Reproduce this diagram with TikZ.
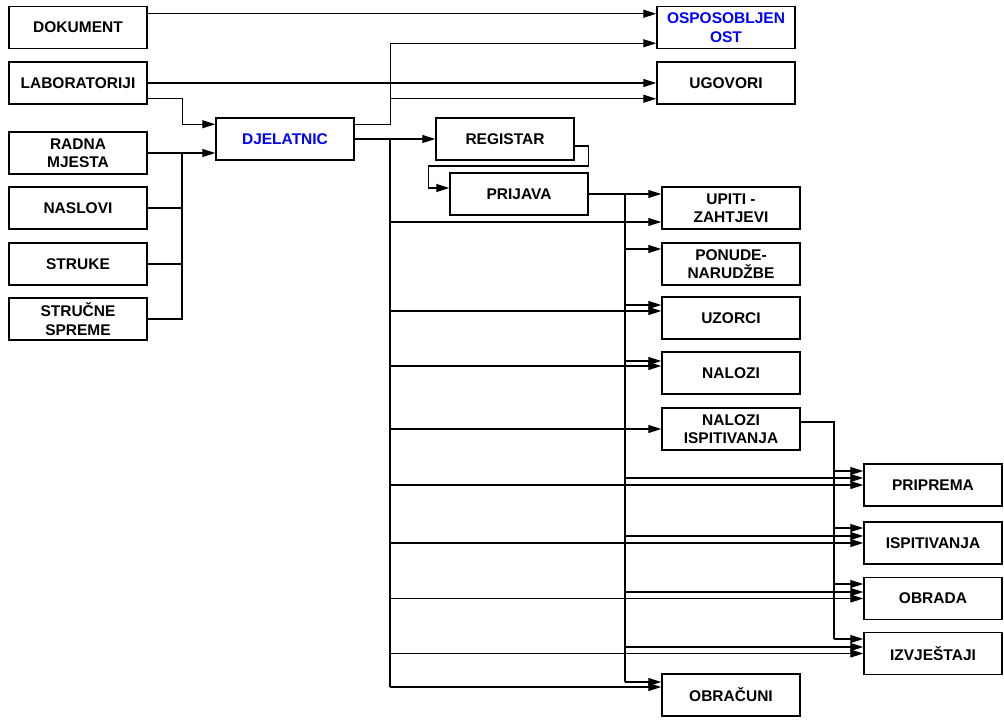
\documentclass[tikz,border=0pt]{standalone}
\usepackage{fontspec}
\setmainfont{Liberation Sans}
\usetikzlibrary{arrows.meta}

\begin{document}
\begin{tikzpicture}[
        x=1pt, y=-1pt,
        box/.style={rectangle, draw, line width=1.5pt, minimum width=138pt, minimum height=42pt, inner sep=0pt, align=center, font=\bfseries\fontsize{15.5}{18.5}\selectfont},
        conn/.style={line width=1.4pt},
        arr/.style={conn, -{Triangle[length=13pt, width=8pt]}},
        bus/.style={line width=2.6pt}
    ]
        \useasboundingbox (0,0) rectangle (1004,720);
        % Left column
        \foreach \n/\y/\t in {dok/27.5/DOKUMENT, lab/83/LABORATORIJI, rad/153/{RADNA\\MJESTA}, nas/208/NASLOVI, str/264/STRUKE, ssp/319/{STRUČNE\\SPREME}} {
            \node[box] (\n) at (78,\y) {\t};
        }
        \node[box, text=blue] (dje) at (285,139) {DJELATNIC};
        % Top right
        \node[box, text=blue] (osp) at (726,27.5) {OSPOSOBLJEN\\OST};
        \node[box] (ugo) at (726,83) {UGOVORI};
        \node[box] (reg) at (505,139) {REGISTAR};
        \node[box] (pri) at (519,194) {PRIJAVA};
        % Middle column
        \foreach \n/\y/\t in {upi/208/{UPITI -\\ZAHTJEVI}, pon/264/{PONUDE-\\NARUDŽBE}, uzo/318/UZORCI, nal/373/NALOZI, nis/429/{NALOZI\\ISPITIVANJA}, obc/695/OBRAČUNI} {
            \node[box] (\n) at (731,\y) {\t};
        }
        % Right column
        \foreach \n/\y/\t in {prp/485/PRIPREMA, isp/543/ISPITIVANJA, obr/598.5/OBRADA, izv/653.5/IZVJEŠTAJI} {
            \node[box] (\n) at (933,\y) {\t};
        }

        % Bus ends
        \coordinate (jl) at (182,153);
        \coordinate (b1e) at (390,687);
        \coordinate (b2e) at (625,682);
        \coordinate (b3e) at (834,639);

        % Into DJELATNIC
        \draw[arr] ([yshift=6pt]lab.south east) -- ++(35,0) |- ([yshift=-7pt]dje.north west);
        \draw[arr] (rad.east) -- (dje.west |- rad.east);
        \foreach \n in {nas,str,ssp} {
            \draw[conn] (\n.east) -| (jl);
        }
        \draw[arr] ([yshift=-8pt]dok.north east) -- ([yshift=-8pt]osp.north west);
        \draw[arr] (lab.east) -- (ugo.west);
        \draw[arr] ([yshift=-7pt]dje.north east) -- ++(36,0) |- ([yshift=6pt]osp.south west);
        \draw[arr] ([yshift=-7pt]dje.north east) -- ++(36,0) |- ([yshift=6pt]ugo.south west);
        \draw[arr] ([yshift=-7pt]reg.east) -| ++(14,20) -| ([xshift=-21pt, yshift=6pt]pri.west) -- ([yshift=6pt]pri.west);

        % Main bus
        \draw[bus] (dje.east) -| (b1e);
        \foreach \t/\s in {reg/0, upi/-14, uzo/7, nal/7, nis/0, prp/0, isp/0, obr/0, izv/0, obc/8} {
            \path ([yshift=\s pt]\t.west) coordinate (e);
            \draw[arr] (b1e |- e) -- (e);
        }
        % PRIJAVA bus
        \draw[bus] (pri.east) -| (b2e);
        \foreach \t/\s in {upi/14, pon/15, uzo/13, nal/12, prp/7, isp/7, obr/6.5, izv/6.5, obc/13} {
            \path ([yshift=\s pt]\t.west) coordinate (e);
            \draw[arr] (b2e |- e) -- (e);
        }
        % NALOZI ISPITIVANJA bus
        \draw[conn, line width=2pt] ([yshift=7pt]nis.east) -| (b3e);
        \foreach \t/\s in {prp/14, isp/15, obr/14.5, izv/14.5} {
            \path ([yshift=\s pt]\t.west) coordinate (e);
            \draw[arr] (b3e |- e) -- (e);
        }
    \end{tikzpicture}
\end{document}
